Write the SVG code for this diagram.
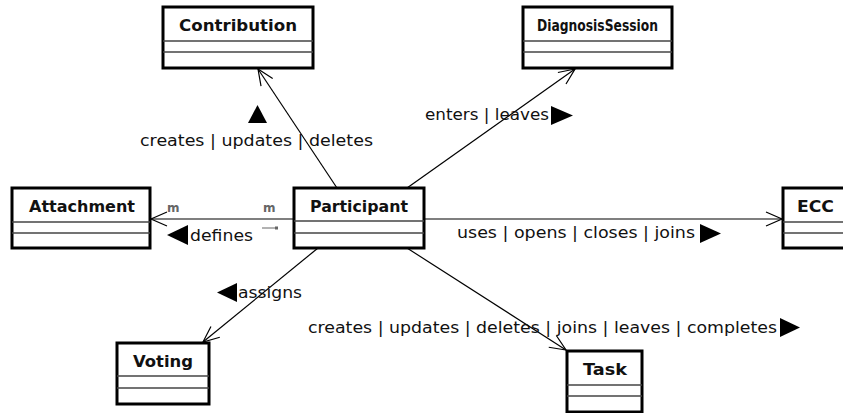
<svg xmlns="http://www.w3.org/2000/svg" width="843" height="413" viewBox="0 0 843 413">
  <defs>
    <marker id="open" viewBox="-18 -9 20 18" refX="0" refY="0" markerWidth="20" markerHeight="18" markerUnits="userSpaceOnUse" orient="auto">
      <path d="M -16 -7 L 0 0 L -16 7" fill="none" stroke="#000" stroke-width="1.2"/>
    </marker>
  </defs>
  <style>
    .box { fill: #fff; stroke: #000; stroke-width: 3; }
    .sep { stroke: #444; stroke-width: 1.5; }
    .title { font-family: "DejaVu Sans", sans-serif; font-weight: bold; font-size: 16px; fill: #111; }
    .lbl { font-family: "DejaVu Sans", sans-serif; font-size: 15px; fill: #111; }
    .mult { font-family: "DejaVu Sans", sans-serif; font-weight: bold; font-size: 12px; fill: #666; }
    .conn { stroke: #000; stroke-width: 1.2; fill: none; marker-end: url(#open); }
    .tri { fill: #000; }
  </style>

  <g id="connectors">
    <line class="conn" x1="337" y1="188" x2="258" y2="69"/>
    <line class="conn" x1="407" y1="188" x2="575" y2="69"/>
    <line class="conn" x1="294" y1="219" x2="151" y2="219"/>
    <line class="conn" x1="424" y1="219" x2="782" y2="219"/>
    <line class="conn" x1="318" y1="248" x2="203" y2="342"/>
    <line class="conn" x1="407" y1="248" x2="566" y2="350"/>
    <line x1="262" y1="228" x2="275" y2="228" stroke="#666" stroke-width="1"/>
    <rect x="275" y="226.5" width="3" height="3" fill="#666"/>
    <text class="mult" x="167" y="212">m</text>
    <text class="mult" x="263" y="212">m</text>
    <text class="lbl" x="140" y="146" textLength="233" lengthAdjust="spacingAndGlyphs">creates | updates | deletes</text>
    <polygon class="tri" points="257.5,105 248,123 267,123"/>
    <text class="lbl" x="425" y="120" textLength="124" lengthAdjust="spacingAndGlyphs">enters | leaves</text>
    <polygon class="tri" points="551,106 551,125 573,115.5"/>
    <text class="lbl" x="457" y="238" textLength="238" lengthAdjust="spacingAndGlyphs">uses | opens | closes | joins</text>
    <polygon class="tri" points="700,224 700,243 721,233.5"/>
    <polygon class="tri" points="167,235 188,225 188,245"/>
    <text class="lbl" x="190" y="241" textLength="63" lengthAdjust="spacingAndGlyphs">defines</text>
    <polygon class="tri" points="217,292.5 237,283 237,302"/>
    <text class="lbl" x="238" y="298" textLength="64" lengthAdjust="spacingAndGlyphs">assigns</text>
    <text class="lbl" x="308" y="333" textLength="469" lengthAdjust="spacingAndGlyphs">creates | updates | deletes | joins | leaves | completes</text>
    <polygon class="tri" points="780,318 780,337 800,327.5"/>
  </g>

  <g id="Contribution">
    <rect class="box" x="163" y="7" width="150" height="61"/>
    <line class="sep" x1="163" y1="41" x2="313" y2="41"/>
    <line class="sep" x1="163" y1="52" x2="313" y2="52"/>
    <text class="title" x="179" y="31" textLength="118" lengthAdjust="spacingAndGlyphs">Contribution</text>
  </g>
  <g id="DiagnosisSession">
    <rect class="box" x="523" y="7" width="149" height="61"/>
    <line class="sep" x1="523" y1="41" x2="672" y2="41"/>
    <line class="sep" x1="523" y1="52" x2="672" y2="52"/>
    <text class="title" x="537" y="31" style="font-size:15.5px" textLength="121" lengthAdjust="spacingAndGlyphs">DiagnosisSession</text>
  </g>
  <g id="Attachment">
    <rect class="box" x="12" y="188" width="138" height="60"/>
    <line class="sep" x1="12" y1="222" x2="150" y2="222"/>
    <line class="sep" x1="12" y1="233" x2="150" y2="233"/>
    <text class="title" x="29" y="212" textLength="106" lengthAdjust="spacingAndGlyphs">Attachment</text>
  </g>
  <g id="Participant">
    <rect class="box" x="294" y="188" width="130" height="60"/>
    <line class="sep" x1="294" y1="221" x2="424" y2="221"/>
    <line class="sep" x1="294" y1="233" x2="424" y2="233"/>
    <text class="title" x="310" y="212" textLength="98" lengthAdjust="spacingAndGlyphs">Participant</text>
  </g>
  <g id="ECC">
    <rect class="box" x="783" y="188" width="80" height="60"/>
    <line class="sep" x1="783" y1="222" x2="863" y2="222"/>
    <line class="sep" x1="783" y1="233" x2="863" y2="233"/>
    <text class="title" x="797" y="212" textLength="37" lengthAdjust="spacingAndGlyphs">ECC</text>
  </g>
  <g id="Voting">
    <rect class="box" x="117" y="343" width="92" height="61"/>
    <line class="sep" x1="117" y1="376" x2="209" y2="376"/>
    <line class="sep" x1="117" y1="388" x2="209" y2="388"/>
    <text class="title" x="133" y="367" textLength="60" lengthAdjust="spacingAndGlyphs">Voting</text>
  </g>
  <g id="Task">
    <rect class="box" x="567" y="351" width="75" height="61"/>
    <line class="sep" x1="567" y1="385" x2="642" y2="385"/>
    <line class="sep" x1="567" y1="396" x2="642" y2="396"/>
    <text class="title" x="583" y="375" textLength="44" lengthAdjust="spacingAndGlyphs">Task</text>
  </g>
</svg>
